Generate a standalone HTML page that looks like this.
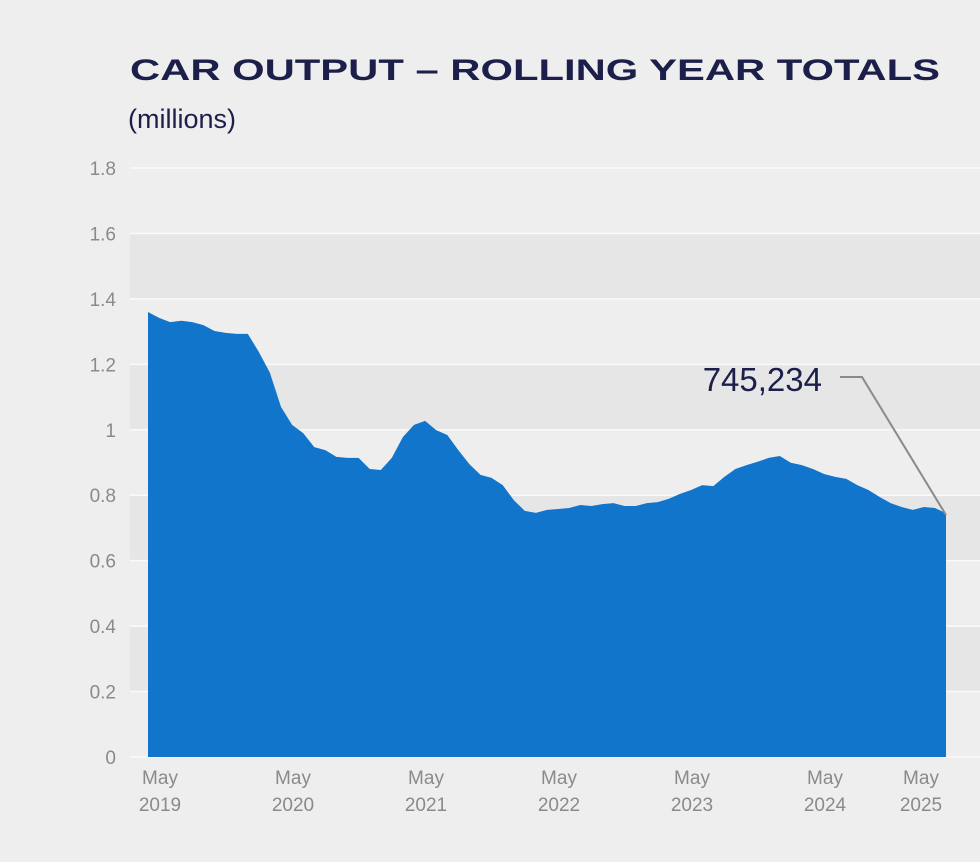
<!DOCTYPE html>
<html><head><meta charset="utf-8"><style>
html,body{margin:0;padding:0;background:#eeeeee;}
svg{display:block;font-family:"Liberation Sans",sans-serif;}
</style></head><body>
<svg id="chart" width="980" height="862" viewBox="0 0 980 862" xmlns="http://www.w3.org/2000/svg">
<rect width="980" height="862" fill="#eeeeee"/>
<text x="130" y="80" font-size="30" font-weight="900" fill="#1c1f4a" textLength="810" lengthAdjust="spacingAndGlyphs">CAR OUTPUT – ROLLING YEAR TOTALS</text>
<text x="128" y="128" font-size="27" fill="#1c1f4a">(millions)</text>
<g id="bands"></g><g id="grid"></g><g id="area"></g><g id="yticks"></g><g id="xticks"></g>
<text x="822" y="391" font-size="33" fill="#1c1f4a" text-anchor="end">745,234</text>
<polyline points="840,377 862,377 946,515" fill="none" stroke="#8a8a8a" stroke-width="2"/>
</svg>
<script>
const values = [1.36,1.342,1.329,1.333,1.329,1.32,1.302,1.296,1.293,1.293,1.238,1.174,1.07,1.015,0.99,0.947,0.938,0.917,0.914,0.914,0.88,0.877,0.914,0.978,1.015,1.027,0.999,0.984,0.938,0.895,0.862,0.853,0.831,0.785,0.752,0.746,0.755,0.758,0.761,0.77,0.767,0.773,0.776,0.767,0.767,0.776,0.779,0.789,0.804,0.816,0.831,0.828,0.856,0.88,0.892,0.902,0.914,0.92,0.899,0.892,0.88,0.865,0.856,0.85,0.831,0.816,0.795,0.776,0.764,0.755,0.764,0.761,0.745];
const yTicks = [0,0.2,0.4,0.6,0.8,1,1.2,1.4,1.6,1.8];
const yTickLabels = ["0","0.2","0.4","0.6","0.8","1","1.2","1.4","1.6","1.8"];
const xTickIndex = [0,12,24,36,48,60,72];
const xTickYears = ["2019","2020","2021","2022","2023","2024","2025"];
const NS="http://www.w3.org/2000/svg";
const y0=757,y1=168,yMax=1.8,x0=148,x1=946;
function ys(v){return y0-(v/yMax)*(y0-y1);}
function xs(i){return x0+(x1-x0)*i/(values.length-1);}
function mk(tag,attrs,parent){const e=document.createElementNS(NS,tag);for(const k in attrs)e.setAttribute(k,attrs[k]);parent.appendChild(e);return e;}
const bands=document.getElementById('bands'),grid=document.getElementById('grid'),yt=document.getElementById('yticks'),xt=document.getElementById('xticks'),ar=document.getElementById('area');
for(let k=0;k<yTicks.length-1;k++){
  if(k%2===1){const r=mk('rect',{x:130,y:ys(yTicks[k+1]),width:850,height:ys(yTicks[k])-ys(yTicks[k+1]),fill:'#e6e6e6'},bands);
  
  }
}
yTicks.forEach((v,k)=>{
  const l=mk('line',{x1:130,x2:980,y1:ys(v),y2:ys(v),stroke:'#fafafa','stroke-width':1.5},grid);
  
  
  const t=mk('text',{x:116,y:ys(v)+7,'font-size':19,fill:'#8a8a8a','text-anchor':'end'},yt);
  t.textContent=yTickLabels[k];
  
  
});
let d='M'+xs(0)+','+y0;
values.forEach((v,i)=>{d+=' L'+xs(i).toFixed(1)+','+ys(v).toFixed(1);});
d+=' L'+xs(values.length-1)+','+y0+' Z';
const p=mk('path',{d:d,fill:'#1275cc'},ar);


xTickIndex.forEach((i,k)=>{
  const cx=Math.min(xs(i)+12,921);
  const a=mk('text',{x:cx,y:784,'font-size':19,fill:'#8a8a8a','text-anchor':'middle'},xt);
  a.textContent='May';
  
  
  const b=mk('text',{x:cx,y:811,'font-size':19,fill:'#8a8a8a','text-anchor':'middle'},xt);
  b.textContent=xTickYears[k];
  
  
});
</script>
</body></html>
